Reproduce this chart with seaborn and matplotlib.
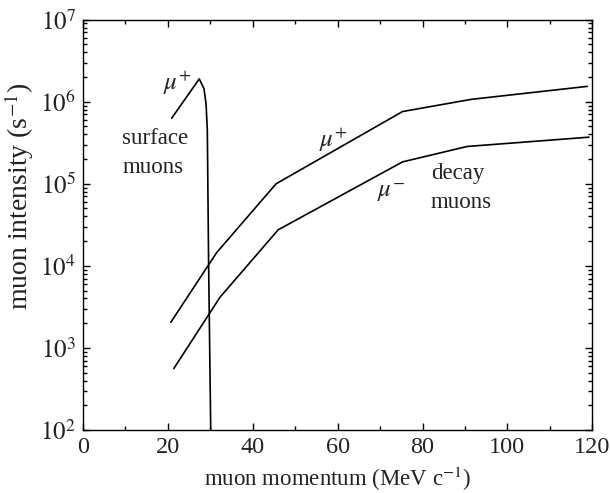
import numpy as np
import pandas as pd
import matplotlib
matplotlib.use("Agg")
import matplotlib.pyplot as plt
from matplotlib.ticker import LogLocator, FixedLocator, FuncFormatter, NullFormatter
import seaborn as sns

# Surface muons (mu+ from pion decay at rest near the target surface)
surface_p = [20.9, 27.4, 28.5, 29.0, 29.3, 29.6, 30.1]
surface_i = [6.3e5, 1.9e6, 1.45e6, 9.5e5, 4.5e5, 1.1e4, 1.0e2]

# Decay muons, positive
decay_plus_p = [20.7, 31.5, 45.5, 75.3, 91.5, 118.8]
decay_plus_i = [2.05e3, 1.45e4, 1.0e5, 7.6e5, 1.07e6, 1.54e6]

# Decay muons, negative
decay_minus_p = [21.4, 32.3, 46.0, 75.3, 90.5, 119.2]
decay_minus_i = [5.6e2, 4.15e3, 2.75e4, 1.85e5, 2.85e5, 3.7e5]

x_ticks = [0, 20, 40, 60, 80, 100, 120]
y_exponents = [2, 3, 4, 5, 6, 7]

sns.set_theme(style="ticks")
plt.rcParams["font.family"] = ["Liberation Serif", "DejaVu Serif"]
plt.rcParams["mathtext.fontset"] = "stix"

fig = plt.figure(figsize=(6.10, 4.93), dpi=100)
ax = fig.add_axes([0.136, 0.128, 0.835, 0.832])

curves = [
    ("surface", surface_p, surface_i),
    ("mu+", decay_plus_p, decay_plus_i),
    ("mu-", decay_minus_p, decay_minus_i),
]
for name, p, i in curves:
    df = pd.DataFrame({"p": p, "I": i})
    sns.lineplot(data=df, x="p", y="I", ax=ax, color="black", lw=1.2,
                 sort=False, estimator=None)

ax.set_yscale("log")
ax.set_xlim(0, 120)
ax.set_ylim(1e2, 1e7)

ax.xaxis.set_major_locator(FixedLocator(x_ticks))
ax.xaxis.set_minor_locator(FixedLocator(list(range(10, 120, 20))))
ax.yaxis.set_major_locator(FixedLocator([10.0 ** e for e in y_exponents]))
ax.yaxis.set_minor_locator(LogLocator(base=10, subs=np.arange(2, 10)))
ax.yaxis.set_minor_formatter(NullFormatter())
ax.yaxis.set_major_formatter(FuncFormatter(lambda v, _: r"$10^{%d}$" % round(np.log10(v))))

ax.tick_params(which="both", direction="in", top=True, right=True,
               color="black", width=1.0, labelcolor="#222222")
ax.tick_params(axis="x", labelsize=17.5)
ax.tick_params(axis="y", labelsize=18)
ax.tick_params(which="major", length=5, pad=5)
ax.tick_params(which="minor", length=3)
for s in ax.spines.values():
    s.set_color("black")
    s.set_linewidth(1.0)

ax.set_xlabel(r"muon momentum (MeV c$^{-1}$)", fontsize=16.5, color="#222222", labelpad=5)
ax.set_ylabel(r"muon intensity (s$^{-1}$)", fontsize=20, color="#222222")
ax.yaxis.set_label_coords(-0.092, 0.57)

txt = dict(color="#222222", fontsize=16.5)
mu = dict(color="#222222", fontsize=18)
ax.text(22.3, 10 ** 6.23, r"$\mu^{+}$", ha="center", va="center", **mu)
ax.text(9.3, 10 ** 5.375, "surface\nmuons", ha="left", va="center", linespacing=1.5, **txt)
ax.text(58.9, 10 ** 5.54, r"$\mu^{+}$", ha="center", va="center", **mu)
ax.text(72.7, 10 ** 4.89, r"$\mu^{-}$", ha="center", va="center", **mu)
ax.text(82.0, 10 ** 4.945, "decay\nmuons", ha="left", va="center", linespacing=1.5, **txt)

fig.savefig("out.png", dpi=100)
